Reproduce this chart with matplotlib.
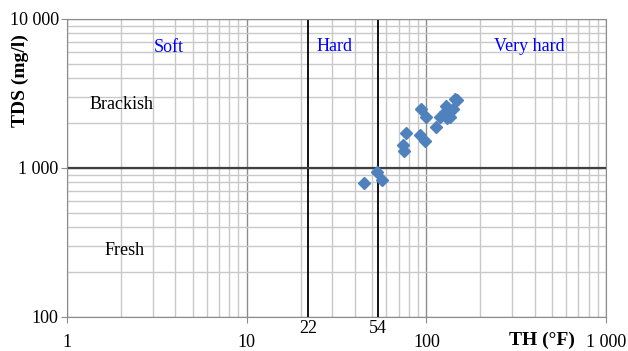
import matplotlib
matplotlib.use("Agg")
import matplotlib.pyplot as plt
from matplotlib.ticker import FixedLocator, LogLocator, NullFormatter
import numpy as np

# total hardness (French degrees) vs total dissolved solids (mg/l)
th = [45, 53, 57, 77, 74, 75, 93, 99, 92, 98, 113, 119, 127, 131, 135, 141, 144, 149, 128]
tds = [790, 940, 830, 1720, 1430, 1300, 2490, 2200, 1670, 1520, 1890, 2200, 2380, 2150, 2200, 2490, 2900, 2880, 2600]

x_ticks = [1, 10, 100, 1000]
x_labels = ["1", "10", "100", "1 000"]
y_ticks = [100, 1000, 10000]
y_labels = ["100", "1 000", "10 000"]
hard_limits = [22, 54]
fresh_limit = 1000

plt.rcParams['font.family'] = ['Liberation Serif', 'DejaVu Serif']
fs = 13

fig = plt.figure(figsize=(6.28, 3.51), dpi=100)
ax = fig.add_axes([0.1067, 0.0969, 0.8583, 0.849])
ax.set_xscale('log')
ax.set_yscale('log')
ax.set_xlim(1, 1000)
ax.set_ylim(100, 10000)

# grid
ax.xaxis.set_minor_locator(LogLocator(base=10, subs=np.arange(2, 10)))
ax.yaxis.set_minor_locator(LogLocator(base=10, subs=np.arange(2, 10)))
ax.xaxis.set_minor_formatter(NullFormatter())
ax.yaxis.set_minor_formatter(NullFormatter())
ax.grid(which='minor', color='#c8c8c8', lw=1.0)
ax.grid(which='major', color='#8c8c8c', lw=1.0)
ax.set_axisbelow(True)
ax.tick_params(which='minor', length=0)

for v in hard_limits:
    ax.axvline(v, color='black', lw=1.3, zorder=2)
ax.axhline(fresh_limit, color='#404040', lw=1.6, zorder=2)

ax.plot(th, tds, ls='none', marker='D', ms=6.2, color='#4f81bd', zorder=3)

ax.xaxis.set_major_locator(FixedLocator(x_ticks))
ax.set_xticklabels(x_labels)
ax.yaxis.set_major_locator(FixedLocator(y_ticks))
ax.set_yticklabels(y_labels)
ax.tick_params(which='major', axis='x', length=4, pad=8, labelsize=fs, color='#8c8c8c')
ax.tick_params(which='major', axis='y', length=4, pad=2, labelsize=fs, color='#8c8c8c')
for s in ax.spines.values():
    s.set_color('#8c8c8c')

for v in hard_limits:
    ax.annotate(str(v), xy=(v, 100), xytext=(0, -2), textcoords='offset points',
                ha='center', va='top', fontsize=fs)

ax.text(3.7, 6400, "Soft", color='blue', fontsize=fs, ha='center', va='center')
ax.text(31, 6550, "Hard", color='blue', fontsize=fs, ha='center', va='center')
ax.text(372, 6550, "Very hard", color='blue', fontsize=fs, ha='center', va='center')
ax.text(1.33, 2680, "Brackish", fontsize=fs, ha='left', va='center')
ax.text(2.1, 280, "Fresh", fontsize=fs, ha='center', va='center')

fig.text(0.033, 0.77, "TDS (mg/l)", rotation=90, fontsize=14, fontweight='bold',
         ha='center', va='center')
fig.text(0.863, 0.03, "TH (°F)", fontsize=14, fontweight='bold', ha='center', va='center')

fig.savefig("out.png", dpi=100)
